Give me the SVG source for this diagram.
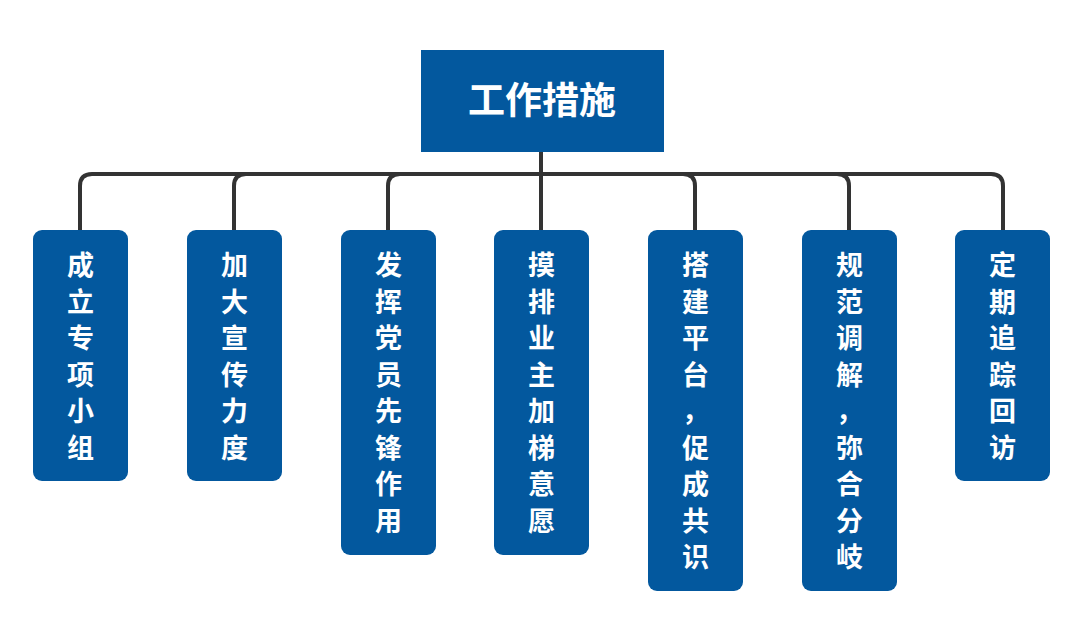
<svg xmlns="http://www.w3.org/2000/svg" width="1080" height="636" viewBox="0 0 1080 636">
<style>
.box{fill:#03589e}
.conn{fill:none;stroke:#333333;stroke-width:4;stroke-linejoin:round}
.t{font-family:"Noto Sans CJK SC","Noto Sans",sans-serif;font-weight:bold;fill:#ffffff;text-anchor:middle}
.c{font-size:27px}
.title{font-size:37px}
</style>
<rect width="1080" height="636" fill="#ffffff"/>
<g id="connectors">
<path class="conn" d="M541,152 V174 H92 Q80,174 80,186 V231"/>
<path class="conn" d="M541,174 H246 Q234,174 234,186 V231"/>
<path class="conn" d="M541,174 H400 Q388,174 388,186 V231"/>
<path class="conn" d="M541,174 V231"/>
<path class="conn" d="M541,174 H683 Q695,174 695,186 V231"/>
<path class="conn" d="M541,174 H837 Q849,174 849,186 V231"/>
<path class="conn" d="M541,174 H991 Q1003,174 1003,186 V231"/>
</g>
<g id="root">
<rect class="box" x="421" y="50" width="243" height="102"/>
<text class="t title" x="542" y="114">工作措施</text>
</g>
<g id="n1">
<rect class="box" x="33" y="230" width="95" height="251" rx="9"/>
<text class="t c"><tspan x="80.5" y="275">成</tspan><tspan x="80.5" y="311.5">立</tspan><tspan x="80.5" y="348">专</tspan><tspan x="80.5" y="384.5">项</tspan><tspan x="80.5" y="421">小</tspan><tspan x="80.5" y="457.5">组</tspan></text>
</g>
<g id="n2">
<rect class="box" x="187" y="230" width="95" height="251" rx="9"/>
<text class="t c"><tspan x="234.5" y="275">加</tspan><tspan x="234.5" y="311.5">大</tspan><tspan x="234.5" y="348">宣</tspan><tspan x="234.5" y="384.5">传</tspan><tspan x="234.5" y="421">力</tspan><tspan x="234.5" y="457.5">度</tspan></text>
</g>
<g id="n3">
<rect class="box" x="341" y="230" width="95" height="325" rx="9"/>
<text class="t c"><tspan x="388.5" y="275">发</tspan><tspan x="388.5" y="311.5">挥</tspan><tspan x="388.5" y="348">党</tspan><tspan x="388.5" y="384.5">员</tspan><tspan x="388.5" y="421">先</tspan><tspan x="388.5" y="457.5">锋</tspan><tspan x="388.5" y="494">作</tspan><tspan x="388.5" y="530.5">用</tspan></text>
</g>
<g id="n4">
<rect class="box" x="494" y="230" width="95" height="325" rx="9"/>
<text class="t c"><tspan x="541.5" y="275">摸</tspan><tspan x="541.5" y="311.5">排</tspan><tspan x="541.5" y="348">业</tspan><tspan x="541.5" y="384.5">主</tspan><tspan x="541.5" y="421">加</tspan><tspan x="541.5" y="457.5">梯</tspan><tspan x="541.5" y="494">意</tspan><tspan x="541.5" y="530.5">愿</tspan></text>
</g>
<g id="n5">
<rect class="box" x="648" y="230" width="95" height="361" rx="9"/>
<text class="t c"><tspan x="695.5" y="275">搭</tspan><tspan x="695.5" y="311.5">建</tspan><tspan x="695.5" y="348">平</tspan><tspan x="695.5" y="384.5">台</tspan><tspan x="695.5" y="421">，</tspan><tspan x="695.5" y="457.5">促</tspan><tspan x="695.5" y="494">成</tspan><tspan x="695.5" y="530.5">共</tspan><tspan x="695.5" y="567">识</tspan></text>
</g>
<g id="n6">
<rect class="box" x="802" y="230" width="95" height="361" rx="9"/>
<text class="t c"><tspan x="849.5" y="275">规</tspan><tspan x="849.5" y="311.5">范</tspan><tspan x="849.5" y="348">调</tspan><tspan x="849.5" y="384.5">解</tspan><tspan x="849.5" y="421">，</tspan><tspan x="849.5" y="457.5">弥</tspan><tspan x="849.5" y="494">合</tspan><tspan x="849.5" y="530.5">分</tspan><tspan x="849.5" y="567">岐</tspan></text>
</g>
<g id="n7">
<rect class="box" x="955" y="230" width="95" height="251" rx="9"/>
<text class="t c"><tspan x="1002.5" y="275">定</tspan><tspan x="1002.5" y="311.5">期</tspan><tspan x="1002.5" y="348">追</tspan><tspan x="1002.5" y="384.5">踪</tspan><tspan x="1002.5" y="421">回</tspan><tspan x="1002.5" y="457.5">访</tspan></text>
</g>
</svg>
